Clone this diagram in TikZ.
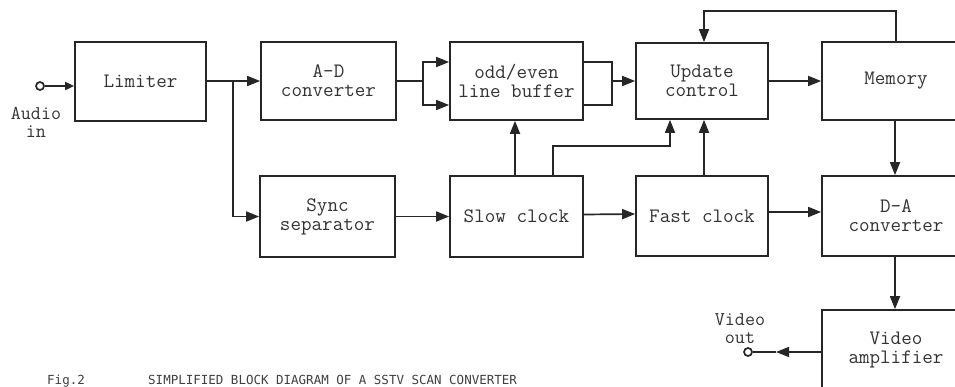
\documentclass[tikz,border=0pt]{standalone}
\usepackage{fontspec}
\newfontfamily\capfont{DejaVu Sans Mono}
\usetikzlibrary{arrows.meta,calc}
\begin{document}
\begin{tikzpicture}[x=1pt,y=-1pt,
  ink/.style={draw=black!85,line width=1.7pt},
  blk/.style={ink,rectangle,inner sep=0pt,align=center,
     font=\ttfamily\fontsize{20.5}{19}\selectfont,text=black!80},
  arr/.style={ink,-{Triangle[length=13pt,width=10pt]}},
  lbl/.style={align=center,font=\ttfamily\fontsize{19.5}{18}\selectfont,text=black!80,inner sep=0pt}]
\useasboundingbox (0,0) rectangle (955,386);
\clip (0,0) rectangle (955,386);
% top row
\node[blk,minimum width=131pt,minimum height=79pt] (lim) at (140.5,81.5) {Limiter};
\node[blk,minimum width=135pt,minimum height=78pt] (ad) at (328.5,81) {A-D\\converter};
\node[blk,minimum width=133pt,minimum height=78pt] (buf) at (516.5,81) {odd/even\\line buffer};
\node[blk,minimum width=132pt,minimum height=76pt] (upd) at (702,81) {Update\\control};
\node[blk,minimum width=148pt,minimum height=78pt] (mem) at (896,81) {Memory};
% bottom row
\node[blk,minimum width=135pt,minimum height=81pt] (sync) at (327.5,216.5) {Sync\\separator};
\node[blk,minimum width=133pt,minimum height=81pt] (slow) at (516.5,216.5) {Slow clock};
\node[blk,minimum width=132pt,minimum height=80pt] (fast) at (702,216) {Fast clock};
\node[blk,minimum width=148pt,minimum height=80pt] (da) at (896,216) {D-A\\converter};
\node[blk,minimum width=148pt,minimum height=80pt] (vamp) at (896,350) {Video\\amplifier};
% input
\node[ink,circle,minimum size=8pt,inner sep=0pt,fill=white] (ain) at (40,86) {};
\node[lbl] (ainl) at (36,122) {Audio\\in};
\draw[ink,-{Triangle[length=9pt,width=8pt]}] (ain.east) -- (ain.east -| lim.west);
% limiter outputs
\coordinate (br) at (233,81);
\draw[arr] (lim.east |- br) -- (ad.west);
\draw[arr] (br) |- (sync.west);
% A-D to buffer
\coordinate (s1) at (423,81);
\draw[ink] (ad.east) -- (s1);
\draw[arr] (s1) |- ([yshift=19pt]buf.west);
\draw[arr] (s1) |- ([yshift=-24pt]buf.west);
% buffer to update
\coordinate (j1) at (612,81);
\draw[ink] ([yshift=19pt]buf.east) -| (j1);
\draw[ink] ([yshift=-24pt]buf.east) -| (j1);
\draw[arr] (j1) -- (upd.west);
% update to memory, feedback
\draw[arr] (upd.east) -- (mem.west);
\draw[arr] (mem.north) -- ++(0,-30) -| ([xshift=2pt]upd.north);
% bottom row
\draw[arr] (sync.east) -- (slow.west);
\draw[arr] ([yshift=2pt]slow.east) -- ([yshift=2pt]fast.west);
\draw[arr] ([yshift=4pt]fast.east) -- ([yshift=4pt]da.west);
\draw[arr] ([xshift=-1.5pt]slow.north) -- ([xshift=-1.5pt]buf.south);
\draw[arr] ([xshift=36.5pt]slow.north) -- ++(0,-29) -| ([xshift=-32pt]upd.south);
\draw[arr] ([xshift=2pt]fast.north) -- ([xshift=2pt]upd.south);
\draw[arr] ([xshift=-1pt]mem.south) -- ([xshift=-1pt]da.north);
\draw[arr] ([xshift=-1pt]da.south) -- ([xshift=-1pt]vamp.north);
% output
\node[ink,circle,minimum size=8pt,inner sep=0pt,fill=white] (vout) at (748,352) {};
\node[lbl] (voutl) at (740,329) {Video\\out};
\coordinate (vm) at (776,352);
\draw[arr] (vamp.west |- vm) -- (vm);
\draw[ink] (vm) -- (vout.east);
% caption
\node[anchor=base west,inner sep=0pt,font=\capfont\fontsize{12.5}{14}\selectfont,text=black!75] (capa) at (47,384) {Fig.2};
\node[anchor=base west,inner sep=0pt,font=\capfont\fontsize{12.5}{14}\selectfont,text=black!75] (capb) at (148,384)
  {SIMPLIFIED BLOCK DIAGRAM OF A SSTV SCAN CONVERTER};
\end{tikzpicture}
\end{document}
